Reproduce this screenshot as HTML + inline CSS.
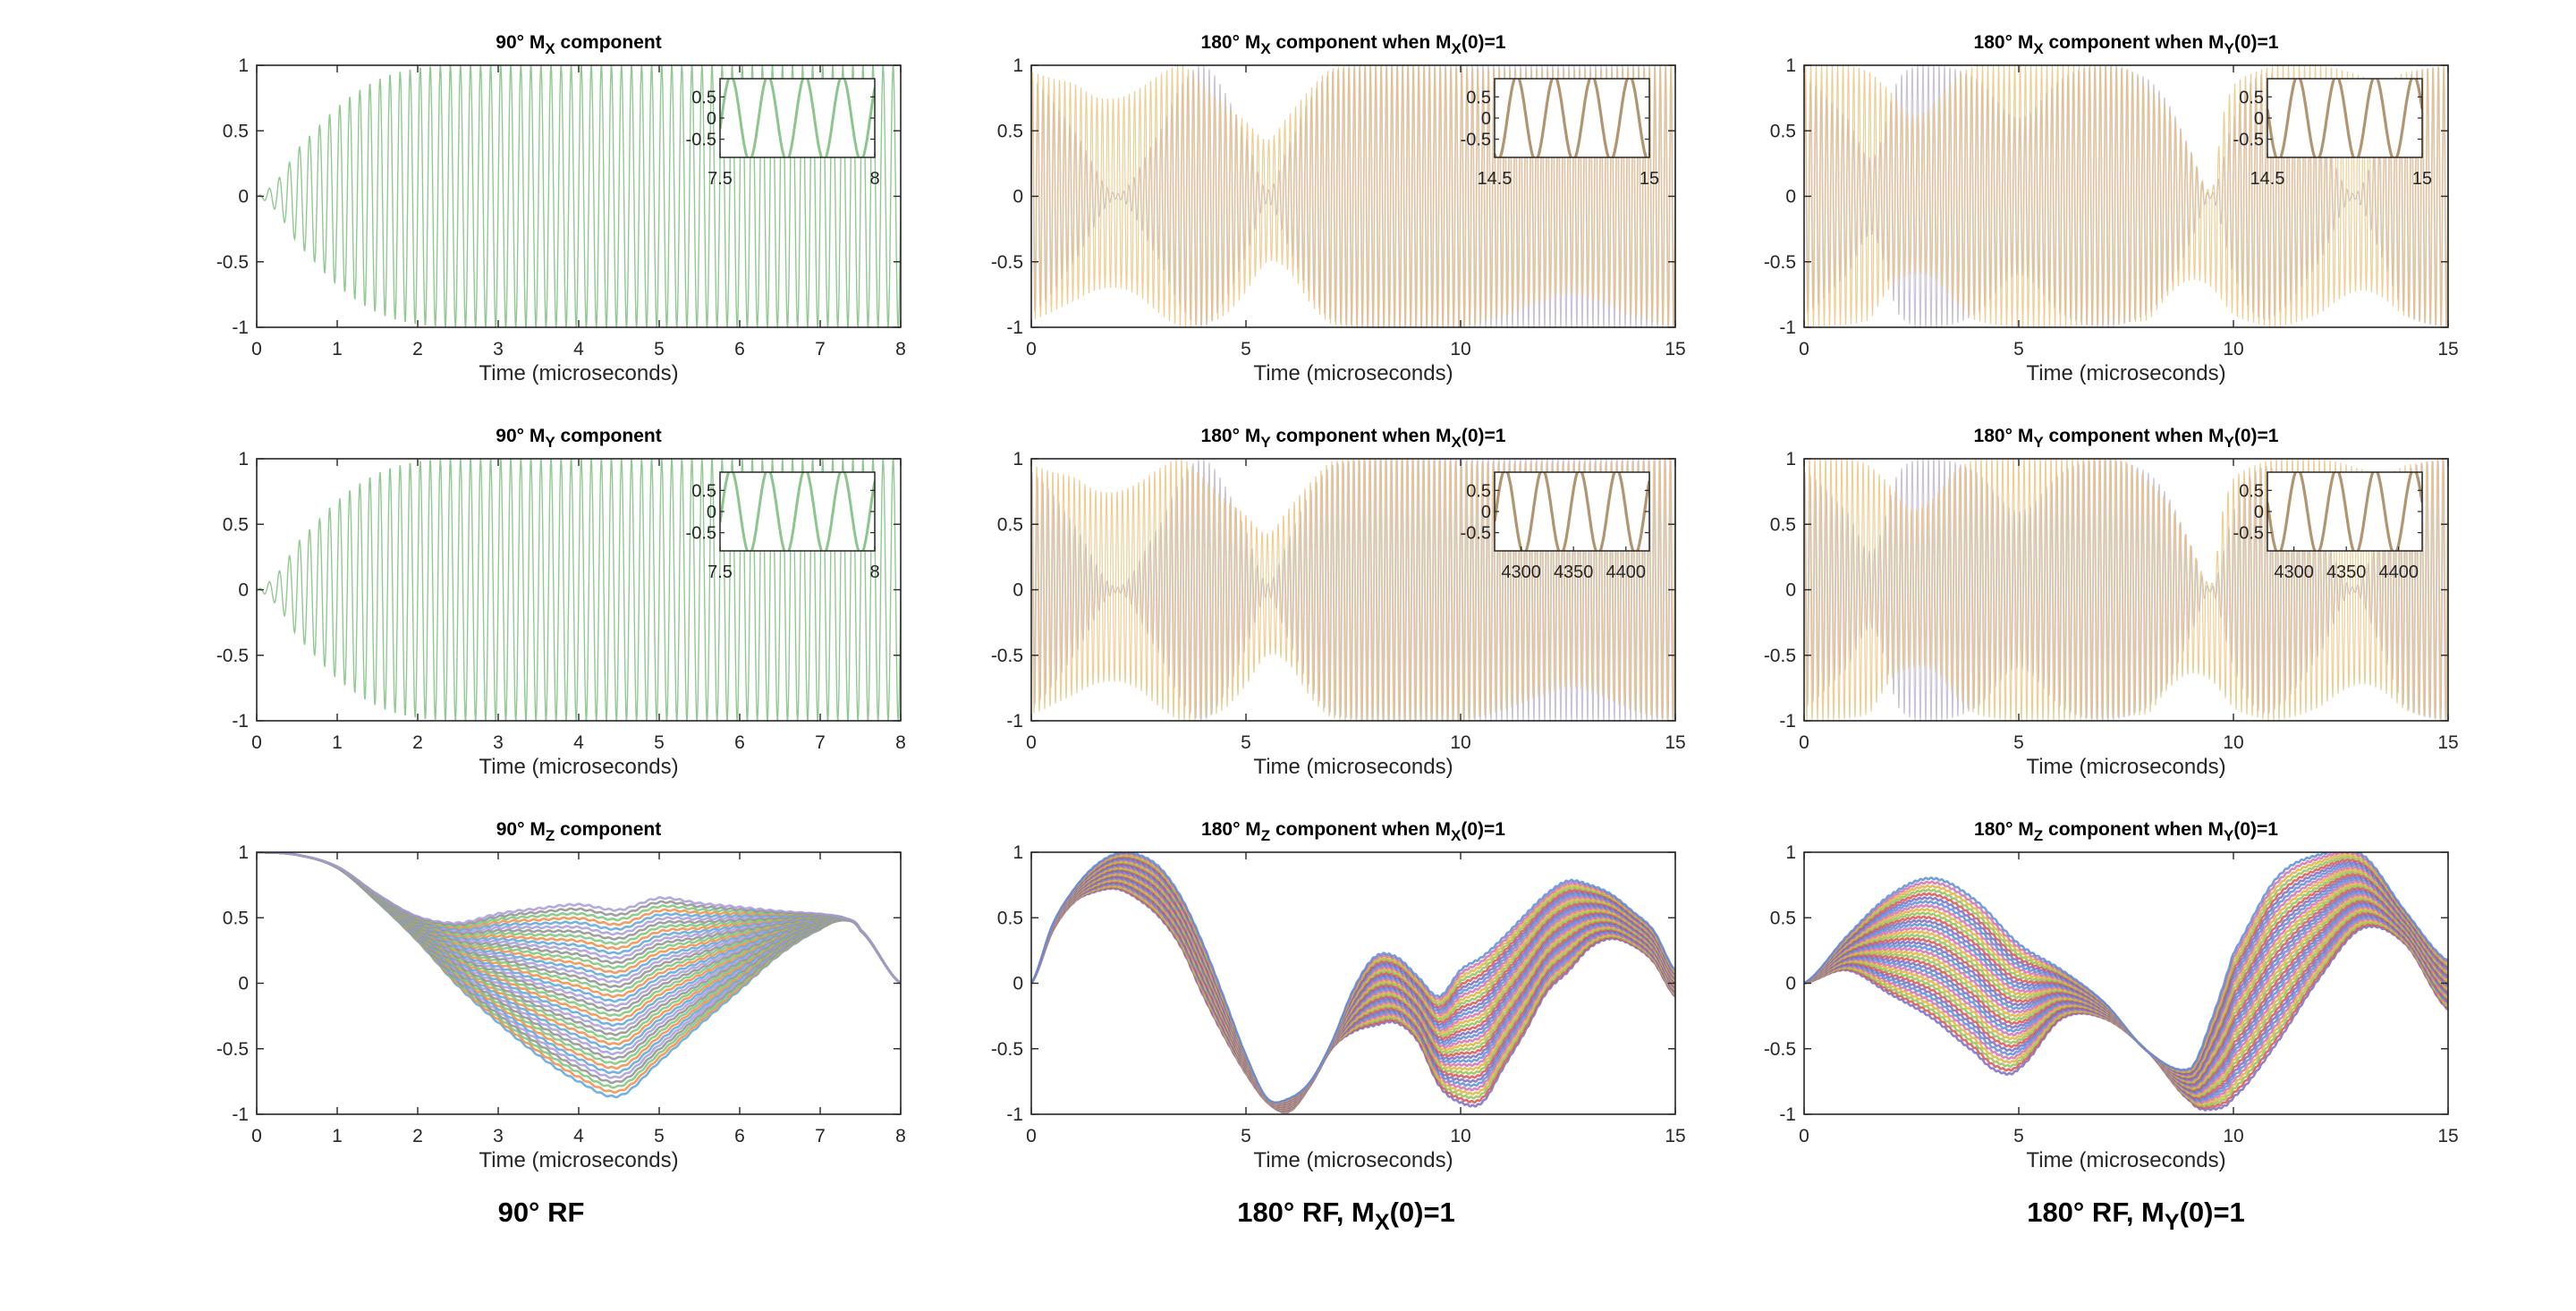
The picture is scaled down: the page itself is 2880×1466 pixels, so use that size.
<!DOCTYPE html>
<html><head><meta charset="utf-8"><style>
html,body{margin:0;padding:0;background:#fff;}
svg{display:block;font-family:"Liberation Sans",sans-serif;}
</style></head><body>
<svg id="fig" width="2880" height="1466" viewBox="0 0 2880 1466" xmlns="http://www.w3.org/2000/svg">
<rect x="0" y="0" width="2880" height="1466" fill="#fff"/>
</svg>
<script>
// ---------- data ----------
const ticks8 = [0,1,2,3,4,5,6,7,8];
const ticks15 = [0,5,10,15];
const yTicks = [-1,-0.5,0,0.5,1];
const yTickLabels = ['-1','-0.5','0','0.5','1'];
const insetYTicks = [-0.5,0,0.5];
const cyclesPerUs = 8;

// 90 Mx / My envelopes
const mx90T = [0,0.25,0.5,1,1.5,2,2.5,8];
const mx90Env = [0,0.12,0.36,0.68,0.89,0.98,1,1];
const my90T = [0,0.25,0.5,1,1.5,2,2.5,8];
const my90Env = [0,0.12,0.36,0.68,0.89,0.98,1,1];

// 180 Mx(0)=1 transverse envelopes
const t180a = [0,0.5,1,1.5,2,2.5,3,3.5,4,4.5,5,5.5,6,6.5,7,8,9,10,11,12,12.5,13,14,15];
const mxA_up  = [0.95,0.9,0.86,0.76,0.75,0.82,0.93,1,0.86,0.7,0.57,0.43,0.62,0.82,0.98,1,1,0.98,0.97,0.97,0.97,0.97,0.98,1];
const mxA_low = [0.95,0.88,0.8,0.72,0.7,0.76,0.9,1,0.98,0.91,0.73,0.5,0.57,0.82,0.98,1,1,1,0.92,0.8,0.75,0.78,0.92,1];
const xA_T = [0,1,2,3,3.5,4,4.5,5,5.5,6,6.5,7,8,10,12,15];
const xA_env = [0.9,0.5,0.02,0.5,0.85,1,0.8,0.45,0.05,0.4,0.75,0.95,1,1,1,1];
const myA_up  = [0.95,0.9,0.86,0.76,0.75,0.82,0.93,1,0.86,0.7,0.57,0.43,0.62,0.82,0.98,1,1,0.98,0.97,0.97,0.97,0.97,0.98,1];
const myA_low = [0.95,0.88,0.8,0.72,0.7,0.76,0.9,1,0.98,0.91,0.73,0.5,0.57,0.82,0.98,1,1,1,0.92,0.8,0.75,0.78,0.92,1];
const yA_env = [0.9,0.5,0.02,0.5,0.85,1,0.8,0.45,0.05,0.4,0.75,0.95,1,1,1,1];

// 180 My(0)=1 transverse envelopes
const t180bU = [0,1,1.5,2,2.5,3,3.5,4,7,7.5,8,8.5,9,9.5,9.75,10,10.5,11,12,12.5,13,13.5,14,15];
const mxB_up = [1,1,0.95,0.8,0.62,0.7,0.9,1,1,0.98,0.84,0.66,0.34,0.05,0.6,0.85,0.95,1,1,0.97,0.92,0.88,0.95,1];
const t180bL = [0,1.5,2,2.5,3,3.5,4,5,8,8.5,9,9.5,10,10.5,11,12,12.5,13,13.5,14,15];
const mxB_low = [1,0.95,0.7,0.6,0.62,0.8,0.95,1,0.95,0.75,0.64,0.7,0.9,0.97,1,0.9,0.78,0.72,0.78,0.92,1];
const xB_T = [0,1,1.6,2.2,3,4,5,6,7,8,8.5,9,9.5,10,10.5,11,12,12.8,13.5,14,15];
const xB_env = [0.9,0.6,0.3,0.9,1,0.9,0.6,0.9,1,0.9,0.7,0.35,0.02,0.6,0.9,0.9,0.5,0.02,0.5,0.9,1];
const myB_up = [1,1,0.95,0.8,0.62,0.7,0.9,1,1,0.98,0.84,0.66,0.34,0.05,0.6,0.85,0.95,1,1,0.97,0.92,0.88,0.95,1];
const myB_low = [1,0.95,0.7,0.6,0.62,0.8,0.95,1,0.95,0.75,0.64,0.7,0.9,0.97,1,0.9,0.78,0.72,0.78,0.92,1];
const yB_env = [0.9,0.6,0.3,0.9,1,0.9,0.6,0.9,1,0.9,0.7,0.35,0.02,0.6,0.9,0.9,0.5,0.02,0.5,0.9,1];

// Mz bands
const mz90T = [0,0.5,1,1.5,2,2.5,3,3.5,4,4.5,5,5.5,6,6.5,7,7.3,7.5,8];
const mz90Up = [1,0.98,0.89,0.68,0.51,0.46,0.53,0.57,0.6,0.56,0.65,0.61,0.58,0.55,0.53,0.5,0.41,0];
const mz90Low = [1,0.98,0.88,0.62,0.32,-0.02,-0.3,-0.55,-0.75,-0.86,-0.6,-0.32,-0.05,0.22,0.41,0.48,0.4,0];
const mzAT = [0,0.5,1,1.5,2,2.5,3,3.5,4,4.5,5,5.5,6,6.5,7,7.5,8,8.5,9,9.5,10,10.5,11,11.5,12,12.5,13,13.5,14,14.5,15];
const mzAUp = [0,0.45,0.72,0.9,0.99,0.98,0.88,0.65,0.3,-0.12,-0.55,-0.88,-0.88,-0.75,-0.45,-0.05,0.2,0.2,0.05,-0.1,0.1,0.2,0.35,0.52,0.68,0.78,0.75,0.68,0.55,0.4,0.1];
const mzALow = [0,0.4,0.62,0.7,0.72,0.64,0.5,0.27,-0.09,-0.41,-0.69,-0.91,-0.98,-0.78,-0.5,-0.37,-0.32,-0.3,-0.44,-0.78,-0.91,-0.91,-0.64,-0.37,-0.07,0.09,0.27,0.34,0.29,0.16,-0.1];
const mzBTUp = [0,1,2,3,4,5,6,7,8,9,9.5,10,11,12,13,14,15];
const mzBUp = [0,0.36,0.67,0.8,0.63,0.3,0.1,-0.15,-0.52,-0.65,-0.27,0.23,0.8,0.98,0.98,0.55,0.17];
const mzBTLow = [0,1,2,3,4,4.5,5,6,7,8,9,9.5,10,11,12,13,14,15];
const mzBLow = [0,0.1,-0.08,-0.27,-0.53,-0.67,-0.65,-0.27,-0.27,-0.52,-0.9,-0.96,-0.87,-0.46,0.04,0.42,0.3,-0.2];

// inset ranges and ticks
const inset90X = [7.5,8]; const inset90Ticks = [7.5,8]; const inset90TickLabels = ['7.5','8'];
const inset15X = [14.5,15]; const inset15Ticks = [14.5,15]; const inset15TickLabels = ['14.5','15'];
const insetNX = [4274.7,4422.4]; const insetNTicks = [4300,4350,4400]; const insetNTickLabels = ['4300','4350','4400'];
const insetWave11 = [0.07,0.24]; const insetWave21 = [0.07,0.24];
const insetWave12 = [0.143,0.243]; const insetWave13 = [0.196,0.25];
const insetWave22 = [0.069,0.24]; const insetWave23 = [0.196,0.25];

// ---------- drawing ----------
const NS='http://www.w3.org/2000/svg';
const svg=document.getElementById('fig');
function el(tag,attrs,parent){const e=document.createElementNS(NS,tag);for(const k in attrs)e.setAttribute(k,attrs[k]);(parent||svg).appendChild(e);return e;}
function interp(ts,vs,t){
  const n=ts.length; if(t<=ts[0])return vs[0]; if(t>=ts[n-1])return vs[n-1];
  let i=0; while(t>ts[i+1])i++;
  const u=(t-ts[i])/(ts[i+1]-ts[i]);
  const p0=vs[Math.max(i-1,0)],p1=vs[i],p2=vs[i+1],p3=vs[Math.min(i+2,n-1)];
  const u2=u*u,u3=u2*u;
  return 0.5*((2*p1)+(-p0+p2)*u+(2*p0-5*p1+4*p2-p3)*u2+(-p0+3*p1-3*p2+p3)*u3);
}
const colX=[287,1153,2017], rowY=[73,513,953], AW=720, AH=293;
let clipId=0;
function axes(ci,ri,xmax,name){
  const x0=colX[ci],y0=rowY[ri];
  const g=el('g',{});
  
  
  const sx=v=>x0+v/xmax*AW, sy=v=>y0+(1-v)/2*AH;
  const cid='c'+(clipId++);
  const cp=el('clipPath',{id:cid},g); el('rect',{x:x0,y:y0,width:AW,height:AH},cp);
  const plot=el('g',{'clip-path':'url(#'+cid+')'},g);
  
  
  return {g,plot,sx,sy,x0,y0,xmax};
}
function frame(a,xt){
  const {g,sx,sy,x0,y0}=a;
  const box=el('rect',{x:x0,y:y0,width:AW,height:AH,fill:'none',stroke:'#262626','stroke-width':1.6},g);
  
  
  xt.forEach(v=>{
    const x=sx(v);
    el('line',{x1:x,y1:y0+AH,x2:x,y2:y0+AH-8,stroke:'#262626','stroke-width':1.4},g);
    el('line',{x1:x,y1:y0,x2:x,y2:y0+8,stroke:'#262626','stroke-width':1.4},g);
    const t=el('text',{x:x,y:y0+AH+31,'text-anchor':'middle','font-size':21,fill:'#262626'},g);
    t.textContent=String(v);
    
    
  });
  yTicks.forEach((v,i)=>{
    const y=sy(v);
    el('line',{x1:x0,y1:y,x2:x0+8,y2:y,stroke:'#262626','stroke-width':1.4},g);
    el('line',{x1:x0+AW,y1:y,x2:x0+AW-8,y2:y,stroke:'#262626','stroke-width':1.4},g);
    const t=el('text',{x:x0-9,y:y+7,'text-anchor':'end','font-size':21,fill:'#262626'},g);
    t.textContent=yTickLabels[i];
    
    
  });
  const xl=el('text',{x:x0+AW/2,y:y0+AH+59,'text-anchor':'middle','font-size':24,fill:'#262626'},g);
  xl.textContent='Time (microseconds)';
  
  
}
function title(a,parts){
  const t=el('text',{x:a.x0+AW/2,y:a.y0-19,'text-anchor':'middle','font-size':21,'font-weight':'bold',fill:'#000'},a.g);
  
  
  parts.forEach(p=>{
    const s=el('tspan',{},t);
    if(p[1]){s.setAttribute('dy','6');s.setAttribute('font-size','17');}
    else if(p[2]){s.setAttribute('dy','-6');}
    s.textContent=p[0];
  });
}
function pathFrom(pts){let d='';for(let i=0;i<pts.length;i++)d+=(i?'L':'M')+pts[i][0].toFixed(1)+' '+pts[i][1].toFixed(1);return d;}
function osc(a,fnUp,fnLow,phase,color,width,op,name){
  const N=Math.round(a.xmax*cyclesPerUs*26), pts=[];
  for(let i=0;i<=N;i++){
    const t=a.xmax*i/N; const s=Math.sin(2*Math.PI*cyclesPerUs*t+phase);
    const v=s>=0?fnUp(t)*s:fnLow(t)*s;
    pts.push([a.sx(t),a.sy(v)]);
  }
  const p=el('path',{d:pathFrom(pts),fill:'none',stroke:color,'stroke-width':width,opacity:op},a.plot);
  
  
}
function band(a,tu,vu,tl,vl,colors,n,name){
  const N=Math.round(a.xmax*cyclesPerUs*10);
  for(let k=0;k<n;k++){
    const f=k/(n-1), pts=[];
    for(let i=0;i<=N;i++){
      const t=a.xmax*i/N;
      const lo=interp(tl,vl,t), up=interp(tu,vu,t);
      const w=0.006*Math.min(1,Math.abs(up-lo)/0.5)*Math.sin(2*Math.PI*cyclesPerUs*t+k);
      pts.push([a.sx(t),a.sy(lo+(up-lo)*f+w)]);
    }
    const p=el('path',{d:pathFrom(pts),fill:'none',stroke:colors[k%colors.length],'stroke-width':2.6,opacity:0.85},a.plot);
    
    
  }
}
function inset(a,xr,xt,xtl,wave,color,w){
  const ix=a.x0+518, iy=a.y0+15, iw=173, ih=88;
  const g=el('g',{},a.g);
  
  
  el('rect',{x:ix,y:iy,width:iw,height:ih,fill:'#fff'},g);
  const cid='c'+(clipId++);
  const cp=el('clipPath',{id:cid},g); el('rect',{x:ix,y:iy,width:iw,height:ih},cp);
  const sy=v=>iy+(0.93-v)/1.86*ih;
  const pts=[];
  for(let i=0;i<=300;i++){const f=i/300;pts.push([ix+f*iw,sy(Math.cos(2*Math.PI*(f-wave[0])/wave[1]))]);}
  const p=el('path',{d:pathFrom(pts),fill:'none',stroke:color,'stroke-width':w,'clip-path':'url(#'+cid+')'},g);
  
  
  el('rect',{x:ix,y:iy,width:iw,height:ih,fill:'none',stroke:'#262626','stroke-width':1.5},g);
  insetYTicks.forEach(v=>{
    const y=sy(v);
    el('line',{x1:ix,y1:y,x2:ix+5,y2:y,stroke:'#262626','stroke-width':1.2},g);
    el('line',{x1:ix+iw,y1:y,x2:ix+iw-5,y2:y,stroke:'#262626','stroke-width':1.2},g);
    const t=el('text',{x:ix-4,y:y+7,'text-anchor':'end','font-size':20,fill:'#262626'},g);
    t.textContent=String(v);
    
    
  });
  xt.forEach((v,i)=>{
    const x=ix+(v-xr[0])/(xr[1]-xr[0])*iw;
    el('line',{x1:x,y1:iy+ih,x2:x,y2:iy+ih-5,stroke:'#262626','stroke-width':1.2},g);
    const t=el('text',{x:x,y:iy+ih+30,'text-anchor':'middle','font-size':20,fill:'#262626'},g);
    t.textContent=xtl[i];
    
    
  });
}
const gold='#e8c27a', purple='#8a7aa8', green='#86c386';
const c90=['#5aa6dc','#f28b45','#79c67c','#8f8f8f','#a89ad8'];
const c180=['#7a6cc4','#d9534f','#8ec35a','#e2b13e','#d270b4','#5a8fd3'];

// Row 1
let a=axes(0,0,8,'mx90-axes');
osc(a,t=>interp(mx90T,mx90Env,t),t=>interp(mx90T,mx90Env,t),0,green,1.4,0.9,'mx90-line');
frame(a,ticks8); title(a,[['90° M'],['X',1],[' component',0,1]]);
inset(a,inset90X,inset90Ticks,inset90TickLabels,insetWave11,'#8cc68c',3);

a=axes(1,0,15,'mx180-mx0-axes');
osc(a,t=>interp(xA_T,xA_env,t),t=>interp(xA_T,xA_env,t),0.6,purple,1.2,0.45,'mx180-mx0-cross-lines');
osc(a,t=>interp(t180a,mxA_up,t),t=>interp(t180a,mxA_low,t),0,gold,1.2,0.8,'mx180-mx0-lines');
frame(a,ticks15); title(a,[['180° M'],['X',1],[' component when M',0,1],['X',1],['(0)=1',0,1]]);
inset(a,inset15X,inset15Ticks,inset15TickLabels,insetWave12,'#b09570',3.2);

a=axes(2,0,15,'mx180-my0-axes');
osc(a,t=>interp(xB_T,xB_env,t),t=>interp(xB_T,xB_env,t),0.6,purple,1.2,0.45,'mx180-my0-cross-lines');
osc(a,t=>interp(t180bU,mxB_up,t),t=>interp(t180bL,mxB_low,t),0,gold,1.2,0.8,'mx180-my0-lines');
frame(a,ticks15); title(a,[['180° M'],['X',1],[' component when M',0,1],['Y',1],['(0)=1',0,1]]);
inset(a,inset15X,inset15Ticks,inset15TickLabels,insetWave13,'#b09570',3.2);

// Row 2
a=axes(0,1,8,'my90-axes');
osc(a,t=>interp(my90T,my90Env,t),t=>interp(my90T,my90Env,t),0,green,1.4,0.9,'my90-line');
frame(a,ticks8); title(a,[['90° M'],['Y',1],[' component',0,1]]);
inset(a,inset90X,inset90Ticks,inset90TickLabels,insetWave21,'#8cc68c',3);

a=axes(1,1,15,'my180-mx0-axes');
osc(a,t=>interp(xA_T,yA_env,t),t=>interp(xA_T,yA_env,t),0.6,purple,1.2,0.45,'my180-mx0-cross-lines');
osc(a,t=>interp(t180a,myA_up,t),t=>interp(t180a,myA_low,t),Math.PI/2,gold,1.2,0.8,'my180-mx0-lines');
frame(a,ticks15); title(a,[['180° M'],['Y',1],[' component when M',0,1],['X',1],['(0)=1',0,1]]);
inset(a,insetNX,insetNTicks,insetNTickLabels,insetWave22,'#b09570',3.2);

a=axes(2,1,15,'my180-my0-axes');
osc(a,t=>interp(xB_T,yB_env,t),t=>interp(xB_T,yB_env,t),0.6,purple,1.2,0.45,'my180-my0-cross-lines');
osc(a,t=>interp(t180bU,myB_up,t),t=>interp(t180bL,myB_low,t),Math.PI/2,gold,1.2,0.8,'my180-my0-lines');
frame(a,ticks15); title(a,[['180° M'],['Y',1],[' component when M',0,1],['Y',1],['(0)=1',0,1]]);
inset(a,insetNX,insetNTicks,insetNTickLabels,insetWave23,'#b09570',3.2);

// Row 3
a=axes(0,2,8,'mz90-axes');
band(a,mz90T,mz90Up,mz90T,mz90Low,c90,40,'mz90-line');
frame(a,ticks8); title(a,[['90° M'],['Z',1],[' component',0,1]]);

a=axes(1,2,15,'mz180-mx0-axes');
band(a,mzAT,mzAUp,mzAT,mzALow,c180,36,'mz180-mx0-line');
frame(a,ticks15); title(a,[['180° M'],['Z',1],[' component when M',0,1],['X',1],['(0)=1',0,1]]);

a=axes(2,2,15,'mz180-my0-axes');
band(a,mzBTUp,mzBUp,mzBTLow,mzBLow,c180,36,'mz180-my0-line');
frame(a,ticks15); title(a,[['180° M'],['Z',1],[' component when M',0,1],['Y',1],['(0)=1',0,1]]);

// Column labels
function colLabel(x,parts,name){
  const t=el('text',{x:x,y:1366,'text-anchor':'middle','font-size':31,'font-weight':'bold',fill:'#000'});
  
  
  parts.forEach(p=>{const s=el('tspan',{},t); if(p[1]){s.setAttribute('dy','9');s.setAttribute('font-size','25');} else if(p[2]){s.setAttribute('dy','-9');} s.textContent=p[0];});
}
colLabel(605,[['90° RF']],'column-label-90');
colLabel(1505,[['180° RF, M'],['X',1],['(0)=1',0,1]],'column-label-180-mx');
colLabel(2388,[['180° RF, M'],['Y',1],['(0)=1',0,1]],'column-label-180-my');
</script>
</body></html>
